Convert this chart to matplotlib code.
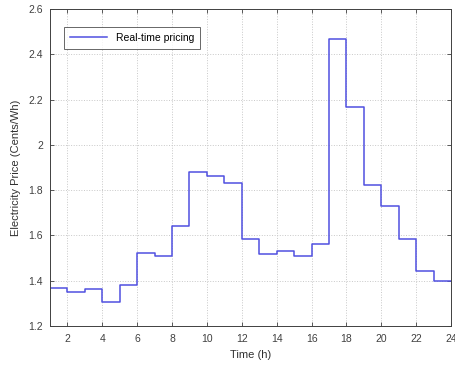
import numpy as np
from matplotlib import pyplot as plt

plt.rcParams['font.family'] = ['Liberation Sans', 'DejaVu Sans']

# hourly real-time price (cents/Wh), hours 1..24
hours = list(range(1, 25))
price = [1.37, 1.35, 1.363, 1.308, 1.382, 1.522, 1.509, 1.64, 1.881, 1.864,
         1.833, 1.584, 1.52, 1.532, 1.507, 1.563, 2.468, 2.168, 1.821, 1.729,
         1.584, 1.441, 1.40, 1.40]
x_ticks = [2, 4, 6, 8, 10, 12, 14, 16, 18, 20, 22, 24]
y_ticks = [1.2, 1.4, 1.6, 1.8, 2.0, 2.2, 2.4, 2.6]
y_tick_labels = ["1.2", "1.4", "1.6", "1.8", "2", "2.2", "2.4", "2.6"]

fig = plt.figure(figsize=(4.56, 3.68), dpi=100)
ax = fig.add_axes([50 / 456, 1 - 326 / 368, 401 / 456, 317 / 368])

ax.step(hours, price, where="post", color="#5050e0", linewidth=1.1, label="Real-time pricing")

ax.set_xlim(1, 24)
ax.set_ylim(1.2, 2.6)
ax.set_xticks(x_ticks)
ax.set_yticks(y_ticks, y_tick_labels)
ax.grid(True, linestyle=":", color="#c8c8c8", linewidth=0.7)
ax.tick_params(direction="in", top=True, right=True, length=3, width=0.6,
               labelsize=7.5, colors="#404040", labelcolor="#404040")
ax.tick_params(axis="x", pad=6)
ax.tick_params(axis="y", pad=5)
for s in ax.spines.values():
    s.set_color("#404040")
    s.set_linewidth(0.7)

ax.set_xlabel("Time (h)", fontsize=8, color="#303030", labelpad=4)
ax.set_ylabel("Electricity Price (Cents/Wh)", fontsize=8, color="#303030", labelpad=5)

leg = ax.legend(loc="upper left", bbox_to_anchor=(0.035, 0.943), fontsize=7.5,
                frameon=True, fancybox=False, edgecolor="#404040",
                handlelength=3.6, borderpad=0.55, borderaxespad=0)
leg.get_frame().set_linewidth(0.7)

fig.savefig("out.png", dpi=100)
